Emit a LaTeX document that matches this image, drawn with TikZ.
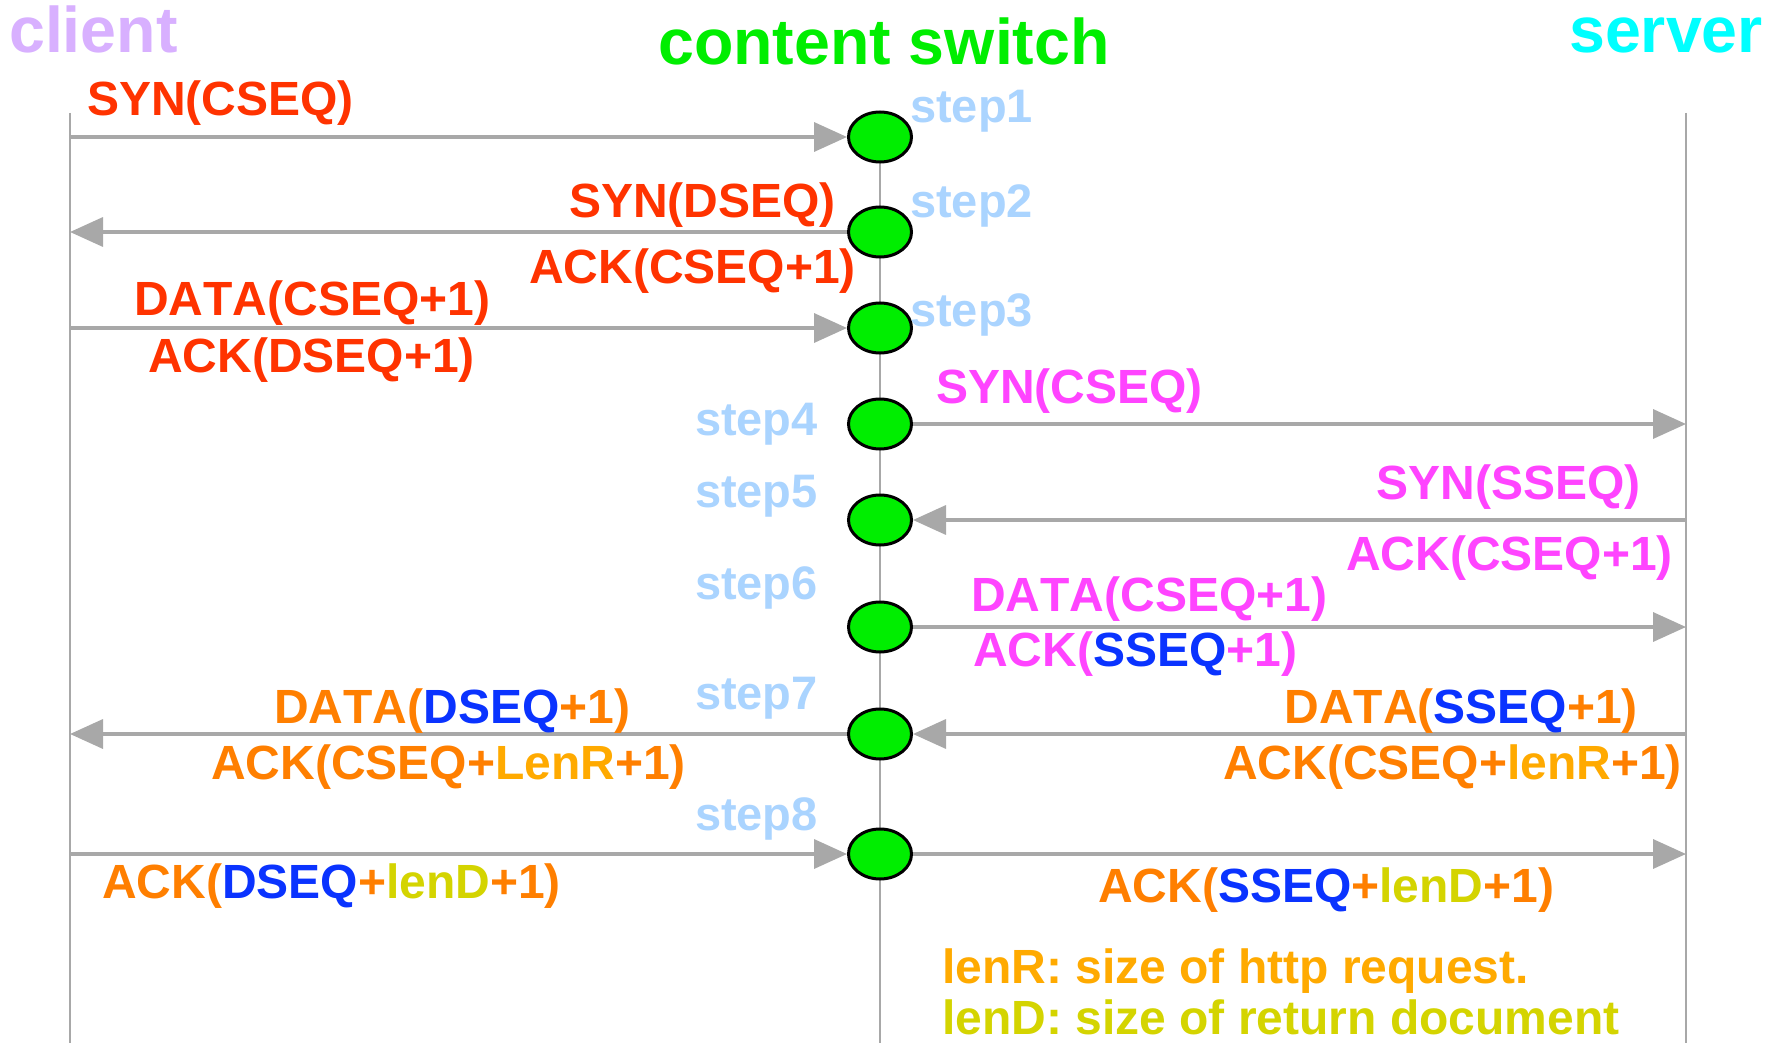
\documentclass[tikz,border=0pt]{standalone}
\usepackage{fontspec}
\setmainfont[Kerning=Off]{Liberation Sans}
\usetikzlibrary{arrows.meta,shapes.geometric}
\definecolor{cred}{HTML}{FF3300}
\definecolor{cmag}{HTML}{FF44FF}
\definecolor{corg}{HTML}{FF7F00}
\definecolor{cblue}{HTML}{0A33FF}
\definecolor{clenr}{HTML}{FFAA00}
\definecolor{clend}{HTML}{D4D400}
\definecolor{cstep}{HTML}{AAD4FF}
\definecolor{cclient}{HTML}{D8B0FF}
\definecolor{cswitch}{HTML}{00EE00}
\definecolor{cserver}{HTML}{00FFFF}
\definecolor{cgreen}{HTML}{00EE00}
\definecolor{cgray}{HTML}{A8A8A8}
\newcommand\labfont{\fontsize{48}{57}\selectfont\bfseries}
\newcommand\stepfont{\fontsize{47}{55}\selectfont\bfseries}
\newcommand\titlefont{\fontsize{64.5}{75}\selectfont\bfseries}
\begin{document}
\begin{tikzpicture}[x=1pt,y=-1pt,
  life/.style={draw=cgray,line width=2.5pt},
  msg/.style={draw=cgray,line width=3.5pt,-{Triangle[length=33pt,width=29pt]}},
  sw/.style={ellipse,draw=black,line width=3pt,fill=cgreen,minimum width=63pt,minimum height=50pt,inner sep=0pt},
  lab/.style={font=\labfont,inner sep=0pt},
  stp/.style={font=\stepfont,text=cstep,inner sep=0pt},
  ttl/.style={font=\titlefont,inner sep=0pt}]
\fill[white] (0,0) rectangle (1783,1043);
\useasboundingbox (0,0) rectangle (1783,1043);
% titles
\node[ttl,text=cclient,anchor=base west] (tclient) at (9,53) {client};
\node[ttl,text=cswitch,anchor=base west] (tswitch) at (658,65) {content switch};
\node[ttl,text=cserver,anchor=base west] (tserver) at (1569,53) {server};
% lifeline coordinates
\coordinate (ctop) at (70,113);
\coordinate (cbot) at (70,1043);
\coordinate (stop) at (1686,113);
\coordinate (sbot) at (1686,1043);
\coordinate (wbot) at (880,1043);
\foreach \i/\y in {1/137,2/232,3/328,4/424,5/520,6/627,7/734,8/854}{
  \coordinate (c\i) at (70,\y);
  \coordinate (p\i) at (880,\y);
  \coordinate (s\i) at (1686,\y);
}
\draw[life] (ctop) -- (cbot);
\draw[life] (stop) -- (sbot);
\draw[life] (p1) -- (wbot);
% switch nodes
\foreach \i in {1,...,8}{\node[sw] (e\i) at (p\i) {};}
% messages
\draw[msg] (c1) -- (e1.west);
\draw[msg] (e2.west) -- (c2);
\draw[msg] (c3) -- (e3.west);
\draw[msg] (e4.east) -- (s4);
\draw[msg] (s5) -- (e5.east);
\draw[msg] (e6.east) -- (s6);
\draw[msg] (e7.west) -- (c7);
\draw[msg] (s7) -- (e7.east);
\draw[msg] (c8) -- (e8.west);
\draw[msg] (e8.east) -- (s8);
% step labels
\node[stp,anchor=base west] (st1) at (910,123) {step1};
\node[stp,anchor=base west] (st2) at (910,218) {step2};
\node[stp,anchor=base west] (st3) at (910,326) {step3};
\node[stp,anchor=base east] (st4) at (818,435) {step4};
\node[stp,anchor=base east] (st5) at (818,507) {step5};
\node[stp,anchor=base east] (st6) at (818,599) {step6};
\node[stp,anchor=base east] (st7) at (818,709) {step7};
\node[stp,anchor=base east] (st8) at (818,830) {step8};
% message labels
\node[lab,text=cred,anchor=base west] (l1) at (87,116) {SYN(CSEQ)};
\node[lab,text=cred,anchor=base east] (l2a) at (836,218) {SYN(DSEQ)};
\node[lab,text=cred,anchor=base east] (l2b) at (856,283) {ACK(CSEQ+1)};
\node[lab,text=cred,anchor=base west] (l3a) at (134,315) {DATA(CSEQ+1)};
\node[lab,text=cred,anchor=base west] (l3b) at (148,372) {ACK(DSEQ+1)};
\node[lab,text=cmag,anchor=base west] (l4) at (936,403) {SYN(CSEQ)};
\node[lab,text=cmag,anchor=base east] (l5a) at (1641,499) {SYN(SSEQ)};
\node[lab,text=cmag,anchor=base east] (l5b) at (1673,570) {ACK(CSEQ+1)};
\node[lab,text=cmag,anchor=base west] (l6a) at (971,611) {DATA(CSEQ+1)};
\node[lab,text=cmag,anchor=base west] (l6b) at (973,666) {ACK(\textcolor{cblue}{SSEQ}+1)};
\node[lab,text=corg,anchor=base west] (l7a) at (274,723) {DATA(\textcolor{cblue}{DSEQ}+1)};
\node[lab,text=corg,anchor=base west] (l7b) at (211,779) {ACK(CSEQ+\textcolor{clenr}{LenR}+1)};
\node[lab,text=corg,anchor=base east] (l7c) at (1638,723) {DATA(\textcolor{cblue}{SSEQ}+1)};
\node[lab,text=corg,anchor=base east] (l7d) at (1682,779) {ACK(CSEQ+\textcolor{clenr}{lenR}+1)};
\node[lab,text=corg,anchor=base west] (l8a) at (102,898) {ACK(\textcolor{cblue}{DSEQ}+\textcolor{clend}{lenD}+1)};
\node[lab,text=corg,anchor=base west] (l8b) at (1098,902) {ACK(\textcolor{cblue}{SSEQ}+\textcolor{clend}{lenD}+1)};
% legend
\node[lab,text=clenr,anchor=base west] (leg1) at (942,983) {lenR: size of http request.};
\node[lab,text=clend,anchor=base west] (leg2) at (942,1034) {lenD: size of return document};
\end{tikzpicture}
\end{document}
